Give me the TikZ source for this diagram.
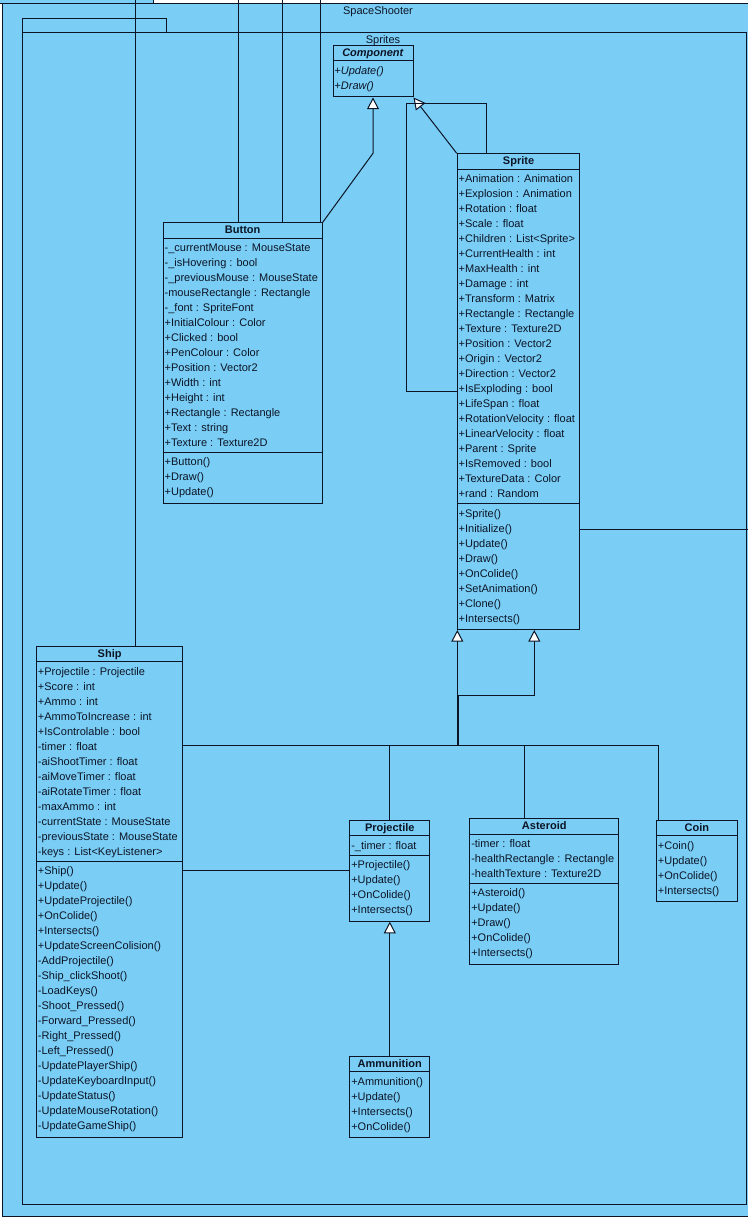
\documentclass[tikz,border=0pt]{standalone}
\usepackage{fontspec}
\setmainfont{Liberation Sans}
\usepackage{xcolor}
\usepackage{tikz}
\usetikzlibrary{shapes.multipart,arrows.meta}

\definecolor{vpblue}{RGB}{122,206,245}
\definecolor{vpline}{RGB}{12,20,38}

% row struts: member row, title row, last method row
\newcommand{\rw}{\rule[-2.625pt]{0pt}{11.25pt}}
\newcommand{\rt}{\rule[-1.5pt]{0pt}{8.25pt}}
\newcommand{\rl}{\rule[-3.975pt]{0pt}{3.975pt}}

\begin{document}
\begin{tikzpicture}[
    x=0.75pt, y=-0.75pt,
    color=vpline, line width=0.75pt,
    font=\fontsize{8.25pt}{11.25pt}\selectfont,
    cls/.style={rectangle split, rectangle split parts=3, rectangle split part align={center,left,left}, draw, fill=vpblue, inner xsep=1.1pt, inner ysep=1.2pt, align=left, anchor=north west},
    cls2/.style={cls, rectangle split parts=2, rectangle split part align={center,left}},
    pkg/.style={draw, fill=vpblue},
    gen/.style={-{Triangle[length=8.8pt, width=9pt, fill=white]}},
]
\useasboundingbox (0,0) rectangle (748,1220);
\fill[white] (0,0) rectangle (748,1220);
\clip (0,0) rectangle (748,1220);

% SpaceShooter package
\draw[pkg] (-5,-20) rectangle (153,4);
\draw[pkg] (2.5,4) rectangle (765,1216);
\node (spaceshooter) at (378,11.5) {SpaceShooter};

% Sprites package
\draw[pkg] (22,18.5) rectangle (166,33);
\draw[pkg] (22,33) rectangle (746,1204);
\node (sprites) at (383,40.5) {Sprites};

% Component
\node[cls2, minimum width=60pt] (component) at (332.5,45) {\rt\textbf{\textit{Component}}
  \nodepart{two}\rw\textit{+Update()}\\\textit{+Draw()}\rl};

% Sprite
\node[cls, minimum width=92pt] (sprite) at (456.7,153.3) {\rt\textbf{Sprite}
  \nodepart{two}\rw +Animation : Animation\\+Explosion : Animation\\+Rotation : float\\+Scale : float\\
  +Children : List<Sprite>\\+CurrentHealth : int\\+MaxHealth : int\\+Damage : int\\
  +Transform : Matrix\\+Rectangle : Rectangle\\+Texture : Texture2D\\+Position : Vector2\\
  +Origin : Vector2\\+Direction : Vector2\\+IsExploding : bool\\+LifeSpan : float\\
  +RotationVelocity : float\\+LinearVelocity : float\\+Parent : Sprite\\+IsRemoved : bool\\
  +TextureData : Color\\+rand : Random\rw
  \nodepart{three}\rw +Sprite()\\+Initialize()\\+Update()\\+Draw()\\+OnColide()\\
  +SetAnimation()\\+Clone()\\+Intersects()\rl};

% Button
\node[cls, minimum width=119.25pt] (button) at (162.7,222.3) {\rt\textbf{Button}
  \nodepart{two}\rw -\_currentMouse : MouseState\\-\_isHovering : bool\\-\_previousMouse : MouseState\\
  -mouseRectangle : Rectangle\\-\_font : SpriteFont\\+InitialColour : Color\\+Clicked : bool\\
  +PenColour : Color\\+Position : Vector2\\+Width : int\\+Height : int\\+Rectangle : Rectangle\\
  +Text : string\\+Texture : Texture2D\rw
  \nodepart{three}\rw +Button()\\+Draw()\\+Update()\rl};

% Ship
\node[cls, minimum width=109.7pt] (ship) at (36,646) {\rt\textbf{Ship}
  \nodepart{two}\rw +Projectile : Projectile\\+Score : int\\+Ammo : int\\+AmmoToIncrease : int\\
  +IsControlable : bool\\-timer : float\\-aiShootTimer : float\\-aiMoveTimer : float\\
  -aiRotateTimer : float\\-maxAmmo : int\\-currentState : MouseState\\
  -previousState : MouseState\\-keys : List<KeyListener>\rw
  \nodepart{three}\rw +Ship()\\+Update()\\+UpdateProjectile()\\+OnColide()\\+Intersects()\\
  +UpdateScreenColision()\\-AddProjectile()\\-Ship\_clickShoot()\\-LoadKeys()\\
  -Shoot\_Pressed()\\-Forward\_Pressed()\\-Right\_Pressed()\\-Left\_Pressed()\\
  -UpdatePlayerShip()\\-UpdateKeyboardInput()\\-UpdateStatus()\\-UpdateMouseRotation()\\
  -UpdateGameShip()\rl};

% Projectile
\node[cls, minimum width=60pt] (projectile) at (349.3,820) {\rt\textbf{Projectile}
  \nodepart{two}\rw -\_timer : float\rw
  \nodepart{three}\rw +Projectile()\\+Update()\\+OnColide()\\+Intersects()\rl};

% Asteroid
\node[cls, minimum width=111.75pt] (asteroid) at (469.3,818.3) {\rt\textbf{Asteroid}
  \nodepart{two}\rw -timer : float\\-healthRectangle : Rectangle\\-healthTexture : Texture2D\rw
  \nodepart{three}\rw +Asteroid()\\+Update()\\+Draw()\\+OnColide()\\+Intersects()\rl};

% Coin
\node[cls2, minimum width=60.5pt] (coin) at (656,820) {\rt\textbf{Coin}
  \nodepart{two}\rw +Coin()\\+Update()\\+OnColide()\\+Intersects()\rl};

% Ammunition
\node[cls2, minimum width=60pt] (ammunition) at (349.3,1055.7) {\rt\textbf{Ammunition}
  \nodepart{two}\rw +Ammunition()\\+Update()\\+Intersects()\\+OnColide()\rl};

% links leaving the package
\coordinate (extA) at (135,-10);
\coordinate (extB) at (238.3,-10);
\coordinate (extC) at (282.3,-10);
\coordinate (extD) at (320.7,-10);
\coordinate (extE) at (770,529.7);
\draw (extA) -- (extA |- ship.north);
\draw (extB) -- (extB |- button.north);
\draw (extC) -- (extC |- button.north);
\draw (extD) -- (extD |- button.north);
\draw (extE -| sprite.east) -- (extE);

% generalizations to Component
\draw[gen] (button.north east) -- (component.south |- sprite.north) -- (component.south);
\draw[gen] (sprite.north west) -- (component.south east);

% Sprite self link
\coordinate (loop) at (406.7,103.3);
\draw (sprite.west) -| (loop) -| ([xshift=-24pt]sprite.north);

% generalizations to Sprite
\coordinate (jl) at (457.3,745);
\coordinate (jr) at (458.7,745);
\coordinate (kr) at (534.3,695);
\coordinate (coinx) at ([xshift=1.8pt]coin.north west);
\coordinate (astx) at ([xshift=41.5pt]asteroid.north west);
\draw[gen] (ship.east |- jl) -- (jl) -- (jl |- sprite.south);
\draw (projectile.north) -- (projectile.north |- jl);
\draw[gen] (coinx) |- (jr) |- (kr) -- (kr |- sprite.south);
\draw (astx) -- (astx |- jr);

% Ship uses Projectile
\draw (ship.east |- projectile.west) -- (projectile.west);

% Ammunition is a Projectile
\draw[gen] (ammunition.north) -- (projectile.south);
\end{tikzpicture}
\end{document}
